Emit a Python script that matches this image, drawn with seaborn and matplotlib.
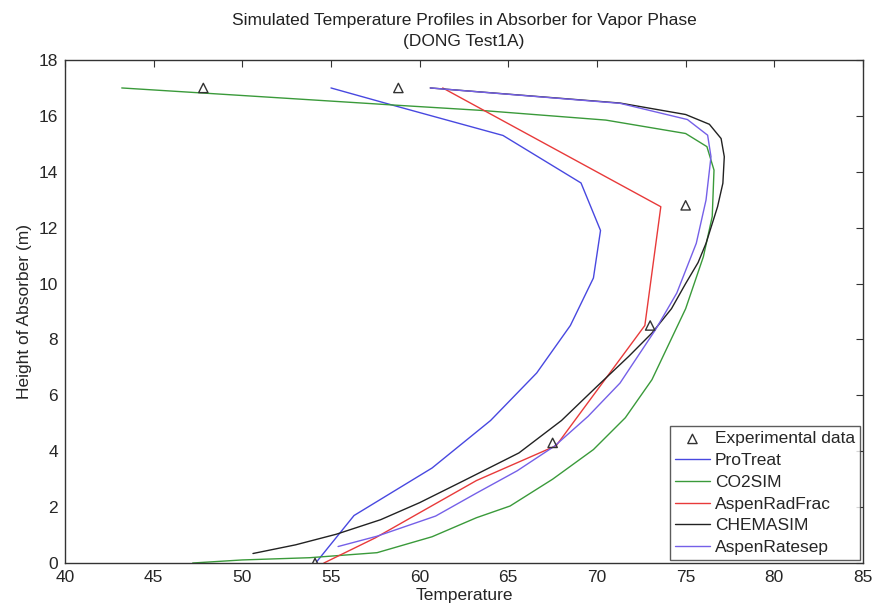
import pandas as pd
import seaborn as sns
import matplotlib
matplotlib.use("Agg")
import matplotlib.pyplot as plt

# experimental points
exp_temp = [47.8, 58.8, 75.0, 73.0, 67.5, 54.1]
exp_height = [17.0, 17.0, 12.8, 8.5, 4.3, 0.0]

# simulated profiles (temperature, height)
protreat_t = [54.2, 56.3, 60.7, 64.0, 66.6, 68.5, 69.8, 70.2, 69.1, 64.7, 58.5, 55.0]
protreat_h = [0.05, 1.7, 3.4, 5.1, 6.8, 8.5, 10.2, 11.9, 13.6, 15.3, 16.38, 17.0]

co2sim_t = [47.2, 50.0, 53.8, 57.6, 60.7, 63.2, 65.1, 67.5, 69.8, 71.6, 73.1, 75.0,
            76.0, 76.5, 76.6, 76.2, 75.0, 70.5, 63.4, 58.5, 50.0, 43.2]
co2sim_h = [0.0, 0.11, 0.19, 0.37, 0.94, 1.62, 2.04, 3.0, 4.06, 5.2, 6.56, 9.1,
            10.96, 12.4, 14.06, 14.9, 15.37, 15.85, 16.2, 16.39, 16.73, 17.0]

radfrac_t = [54.6, 57.5, 60.0, 63.2, 67.7, 72.7, 73.6, 61.3]
radfrac_h = [0.0, 0.9, 1.8, 2.95, 4.2, 8.5, 12.75, 17.0]

chemasim_t = [50.6, 53.0, 55.3, 57.8, 60.0, 62.5, 65.6, 68.0, 70.0, 71.8, 73.1, 74.2,
              75.0, 75.7, 76.15, 76.8, 77.1, 77.18, 77.0, 76.34, 75.0, 71.3, 60.6]
chemasim_h = [0.34, 0.65, 1.03, 1.55, 2.16, 2.95, 3.94, 5.1, 6.32, 7.4, 8.23, 9.1,
              10.0, 10.75, 11.44, 12.75, 13.59, 14.54, 15.19, 15.7, 16.05, 16.46, 17.0]

ratesep_t = [55.4, 57.6, 60.9, 63.2, 65.5, 67.6, 69.5, 71.3, 73.3, 74.5, 75.6, 76.15,
             76.43, 76.24, 75.1, 71.3, 60.6]
ratesep_h = [0.59, 0.96, 1.68, 2.5, 3.3, 4.18, 5.25, 6.44, 8.35, 9.66, 11.44, 12.99,
             14.54, 15.31, 15.87, 16.45, 17.0]

models = ["ProTreat", "CO2SIM", "AspenRadFrac", "CHEMASIM", "AspenRatesep"]
colors = ["#4848e0", "#3a9a3a", "#e83a3a", "#222222", "#7560e8"]

frames = []
for name, t, h in [("ProTreat", protreat_t, protreat_h),
                   ("CO2SIM", co2sim_t, co2sim_h),
                   ("AspenRadFrac", radfrac_t, radfrac_h),
                   ("CHEMASIM", chemasim_t, chemasim_h),
                   ("AspenRatesep", ratesep_t, ratesep_h)]:
    frames.append(pd.DataFrame({"Temperature": t, "Height": h, "model": name}))
df = pd.concat(frames, ignore_index=True)
df_exp = pd.DataFrame({"Temperature": exp_temp, "Height": exp_height})

sns.set_style("white")
plt.rcParams["font.family"] = ["Liberation Sans", "DejaVu Sans"]

fig = plt.figure(figsize=(8.88, 6.05), dpi=100)
ax = fig.add_axes([0.0732, 0.0694, 0.8986, 0.8314])

sns.scatterplot(x="Temperature", y="Height", data=df_exp, ax=ax, marker="^",
                s=45, facecolor="none", edgecolor="#333333", linewidth=1.0,
                label="Experimental data", zorder=5)
sns.lineplot(x="Temperature", y="Height", hue="model", data=df, ax=ax,
             hue_order=models, palette=colors, sort=False, estimator=None,
             linewidth=1.0)

ax.set_xlim(40, 85)
ax.set_ylim(0, 18)
ax.set_xticks(range(40, 90, 5))
ax.set_yticks(range(0, 20, 2))
ax.tick_params(direction="in", length=5, top=True, right=True, labelsize=12.5,
               color="#333333", width=0.8, pad=5)
for s in ax.spines.values():
    s.set_color("#333333")
    s.set_linewidth(1.0)

ax.set_xlabel("Temperature", fontsize=12.5, labelpad=2)
ax.set_ylabel("Height of Absorber (m)", fontsize=12.5, labelpad=5)
ax.set_title("Simulated Temperature Profiles in Absorber for Vapor Phase\n(DONG Test1A)",
             fontsize=12.5, pad=10, color="#222222", linespacing=1.5)

leg = ax.legend(loc="lower right", fontsize=12.5, frameon=True, fancybox=False,
                borderaxespad=0.15, handlelength=2.0, handletextpad=0.3,
                labelspacing=0.38, borderpad=0.3)
leg.get_frame().set_edgecolor("#333333")
leg.get_frame().set_linewidth(1.0)

plt.savefig("out.png", dpi=100)
